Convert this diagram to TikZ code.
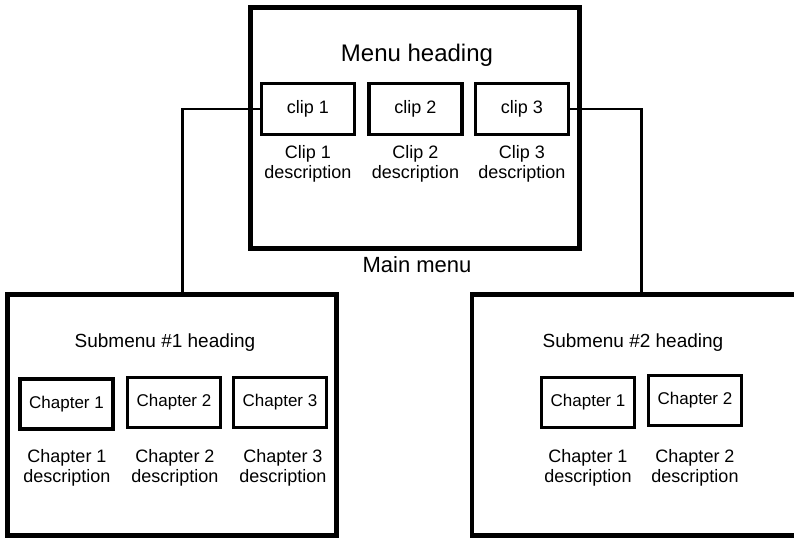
\documentclass[tikz,border=0pt]{standalone}
\usepackage{fontspec}
\setmainfont{Liberation Sans}
\tikzset{
  menubox/.style={draw, line width=3.6pt, inner sep=0pt,
    minimum width=246.75pt, minimum height=180.75pt},
  itembox/.style={draw, line width=2.4pt, inner sep=0pt,
    minimum width=69.75pt, minimum height=37.5pt, font=\fontsize{12.75}{14}\selectfont},
  clipbox/.style={itembox, minimum height=38.25pt, font=\fontsize{13.5}{15}\selectfont},
  desc/.style={align=center, font=\fontsize{13.5}{15}\selectfont},
  heading/.style={font=\fontsize{14.25}{16}\selectfont},
  link/.style={line width=2.2pt}
}

\begin{document}
\begin{tikzpicture}[x=0.75pt,y=-0.75pt]
  \useasboundingbox (0,0) rectangle (794,537);
  \clip (0,0) rectangle (794,537);
  % main menu
  \node[menubox] (main) at (415,128) {};
  \node[font=\fontsize{18}{20}\selectfont] (mainhead) at (417,55) {Menu heading};
  \node[font=\fontsize{16.5}{18}\selectfont] (mainlab) at (417,265) {Main menu};
  \foreach \i/\x in {1/308,2/415.5,3/522} {
    \node[clipbox] (clip\i) at (\x,109) {clip \i};
    \node[desc] (clipdesc\i) at (\x,164) {Clip \i\\description};
  }
  % submenus
  \node[menubox] (sub1) at (172.25,415) {};
  \node[menubox] (sub2) at (636.5,415) {};
  \node[heading] (sub1head) at (165,343) {Submenu \#1 heading};
  \node[heading] (sub2head) at (633,343) {Submenu \#2 heading};
  \foreach \i/\x/\y/\d in {1/66.5/404/67,2/174/402.5/175,3/280/402.5/283} {
    \node[itembox] (sub1ch\i) at (\x,\y) {Chapter \i};
    \node[desc] (sub1desc\i) at (\d,468) {Chapter \i\\description};
  }
  \foreach \i/\x/\y/\d in {1/588/402.5/588,2/695/400.5/695} {
    \node[itembox] (sub2ch\i) at (\x,\y) {Chapter \i};
    \node[desc] (sub2desc\i) at (\d,468) {Chapter \i\\description};
  }
  % connectors
  \draw[link] (clip1.west) -| ([xshift=7.9pt]sub1.north);
  \draw[link] (clip3.east) -| ([xshift=3.75pt]sub2.north);
\end{tikzpicture}
\end{document}
